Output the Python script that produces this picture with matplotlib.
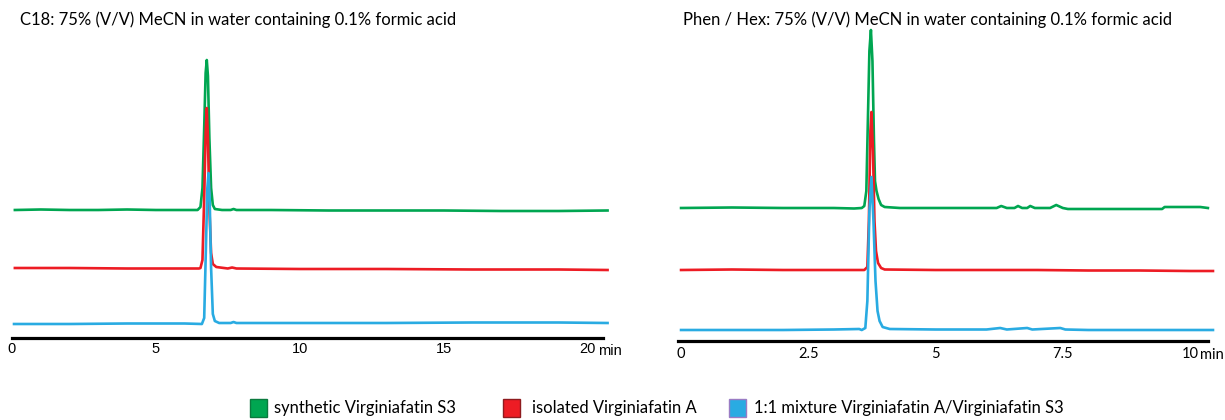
import matplotlib
matplotlib.use("Agg")
import matplotlib.pyplot as plt
from matplotlib.patches import Rectangle

# ---------------- data (retention time in min, detector signal in a.u.; traces offset) -------------
left_title = "C18: 75% (V/V) MeCN in water containing 0.1% formic acid"
right_title = "Phen / Hex: 75% (V/V) MeCN in water containing 0.1% formic acid"

left_ticks = [0, 5, 10, 15, 20]
left_ticklabels = ["0", "5", "10", "15", "20"]
right_ticks = [0, 2.5, 5, 7.5, 10]
right_ticklabels = ["0", "2.5", "5", "7.5", "10"]
unit_label = "min"

legend_labels = ["synthetic Virginiafatin S3", "isolated Virginiafatin A",
                 "1:1 mixture Virginiafatin A/Virginiafatin S3"]

# C18 column
c18_green_t = [0.1, 1, 2, 3, 4, 5, 6, 6.45, 6.55, 6.62, 6.68, 6.73, 6.77, 6.81, 6.86, 6.92, 6.98,
               7.05, 7.3, 7.6, 7.7, 7.8, 9, 11, 13, 15, 17, 19, 20.7]
c18_green_y = [128, 128.5, 128, 128, 128.5, 128, 128, 128, 131, 150, 210, 265, 278, 262, 200, 150, 133,
               129, 128, 128, 129, 128, 128, 127.5, 127.5, 127.5, 127, 127, 127.5]

c18_red_t = [0.1, 2, 4, 5.5, 6.5, 6.55, 6.62, 6.68, 6.73, 6.77, 6.81, 6.86, 6.92, 6.98, 7.1, 7.5,
             7.65, 7.8, 10, 13, 16, 19, 20.7]
c18_red_y = [70, 70, 69.5, 69.5, 69.5, 70, 78, 140, 205, 230, 200, 130, 85, 74, 71, 69.5,
             70.5, 69.5, 69, 69, 68.5, 68.5, 68]

c18_blue_t = [0.07, 2, 4, 6, 6.6, 6.68, 6.74, 6.79, 6.83, 6.87, 6.92, 6.98, 7.05, 7.2, 7.6, 7.7,
              7.8, 10, 13, 16, 19, 20.7]
c18_blue_y = [14, 14, 14.5, 14.5, 14, 20, 90, 150, 165, 140, 70, 24, 17, 15, 15, 16,
              15, 15, 15, 15.5, 15.5, 15]

# Phenyl-hexyl column
ph_green_t = [0, 1, 2, 3, 3.4, 3.55, 3.6, 3.64, 3.67, 3.70, 3.73, 3.76, 3.79, 3.81, 3.84, 3.88, 3.93,
              4.0, 4.3, 5, 5.8, 6.2, 6.29, 6.4, 6.55, 6.62, 6.7, 6.8, 6.86, 6.95, 7.25, 7.37, 7.5,
              7.6, 8.5, 9.45, 9.5, 10.2, 10.35]
ph_green_y = [133, 133.5, 133, 133, 132.5, 133, 135, 150, 220, 290, 311, 280, 200, 160, 150, 142, 136,
              134, 133, 133, 133, 133, 135, 133, 133, 135, 133, 133, 135, 133, 133, 136, 133,
              132, 132, 132, 134, 134, 133]

ph_red_t = [0, 1, 2, 3, 3.5, 3.6, 3.66, 3.69, 3.72, 3.74, 3.77, 3.80, 3.83, 3.87, 3.93, 4.0, 5, 6,
            7, 8, 9, 10, 10.45]
ph_red_y = [71, 71.5, 71, 71, 71, 71, 74, 120, 210, 229, 190, 120, 90, 78, 73, 71.5, 71, 71,
            71, 70.5, 70.5, 70, 70]

ph_blue_t = [0, 1, 2, 3, 3.5, 3.55, 3.62, 3.66, 3.70, 3.74, 3.78, 3.82, 3.86, 3.9, 3.96, 4.1, 5, 6,
             6.27, 6.4, 6.8, 6.9, 7.45, 7.55, 8, 9, 10, 10.45]
ph_blue_y = [11, 11, 11, 11.5, 12, 11, 13, 40, 130, 164, 120, 60, 30, 20, 14, 12, 11.5, 11.5,
             13, 11.5, 13, 11.5, 13, 11.5, 11, 11, 11, 11]

# ---------------- style ----------------
GREEN = "#00A651"
RED = "#ED1C24"
BLUE = "#29ABE2"
EDGES = ["#0B7A3E", "#8E1B1F", "#9A7CC4"]
LW = 1.9

W, H = 1225, 420
fig = plt.figure(figsize=(W / 100, H / 100), dpi=100)


def px_axes(x0, x1, ytop, ybot):
    return fig.add_axes([x0 / W, 1 - ybot / H, (x1 - x0) / W, (ybot - ytop) / H])


def style(ax, xlim, ylim, bounds, ticks, labels, fontfam, pad):
    ax.set_xlim(*xlim)
    ax.set_ylim(*ylim)
    for s in ("top", "right", "left"):
        ax.spines[s].set_visible(False)
    ax.spines["bottom"].set_linewidth(2.3)
    ax.spines["bottom"].set_color("black")
    ax.spines["bottom"].set_bounds(*bounds)
    ax.set_yticks([])
    ax.set_xticks(ticks)
    ax.set_xticklabels(labels, fontfamily=fontfam, fontsize=10.5)
    ax.tick_params(axis="x", length=0, pad=pad)
    ax.patch.set_visible(False)


# left panel
axL = px_axes(12, 609, 30, 338)
axL.plot(c18_green_t, c18_green_y, color=GREEN, lw=LW, solid_joinstyle="round", zorder=2, clip_on=False)
axL.plot(c18_red_t, c18_red_y, color=RED, lw=LW, solid_joinstyle="round", zorder=3, clip_on=False)
axL.plot(c18_blue_t, c18_blue_y, color=BLUE, lw=LW, solid_joinstyle="round", zorder=4, clip_on=False)
style(axL, (0, 20.75), (0, 308), (0, 20.54), left_ticks, left_ticklabels, "Liberation Sans", 3)
axL.annotate(unit_label, xy=(left_ticks[-1], 0), xycoords="data", xytext=(7.9, -3 - 1.15),
             textcoords="offset points", ha="left", va="top", fontsize=10.5,
             fontfamily="Liberation Sans")

# right panel
axR = px_axes(678, 1214, 20, 341)
axR.plot(ph_green_t, ph_green_y, color=GREEN, lw=LW, solid_joinstyle="round", zorder=2, clip_on=False)
axR.plot(ph_red_t, ph_red_y, color=RED, lw=LW, solid_joinstyle="round", zorder=3, clip_on=False)
axR.plot(ph_blue_t, ph_blue_y, color=BLUE, lw=LW, solid_joinstyle="round", zorder=4, clip_on=False)
style(axR, (-0.06, 10.47), (0, 321), (-0.06, 10.35), right_ticks, right_ticklabels, "Lato", 4)
axR.annotate(unit_label, xy=(right_ticks[-1], 0), xycoords="data", xytext=(7.5, -4 - 1.15),
             textcoords="offset points", ha="left", va="top", fontsize=10.5, fontfamily="Lato")

# titles
fig.text(20 / W, 1 - 20 / H, left_title, ha="left", va="center", fontsize=12, fontfamily="Lato")
fig.text(683 / W, 1 - 20 / H, right_title, ha="left", va="center", fontsize=12, fontfamily="Lato")

# legend (manual, as in the figure)
sq_x = [250, 503, 729]
txt_x = [274, 532, 754]
colors = [GREEN, RED, BLUE]
for sx, tx, c, e, lab in zip(sq_x, txt_x, colors, EDGES, legend_labels):
    fig.add_artist(Rectangle((sx / W, 1 - 417 / H), 17 / W, 18 / H, transform=fig.transFigure,
                             facecolor=c, edgecolor=e, lw=1.0))
    fig.text(tx / W, 1 - 408 / H, lab, ha="left", va="center", fontsize=11.9, fontfamily="Lato")

fig.savefig("out.png", dpi=100)
